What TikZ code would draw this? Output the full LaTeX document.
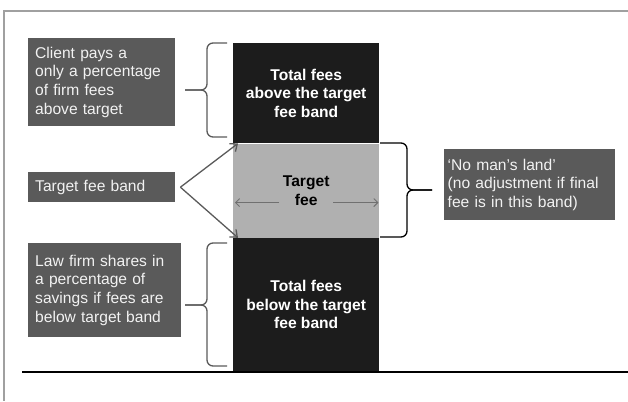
\documentclass[tikz,border=0pt]{standalone}
\usepackage{fontspec}
\setmainfont{Liberation Sans}
\usetikzlibrary{positioning,arrows.meta}
\definecolor{boxgray}{HTML}{5A5A5A}
\definecolor{barblack}{HTML}{1C1C1C}
\definecolor{bandgray}{HTML}{B0B0B0}
\definecolor{framegray}{HTML}{A0A0A0}
\definecolor{tipgray}{HTML}{707070}
\newcommand{\feefont}{\fontsize{15.6}{18.6}\selectfont}
\begin{document}
\begin{tikzpicture}[x=1pt,y=-1pt,>={Straight Barb[length=6pt,width=10pt]},
  note/.style={fill=boxgray,text=white!95!black,font=\feefont,align=left,anchor=north west,inner xsep=7pt,inner ysep=0pt,text width=#1},
  bar/.style={fill=barblack,text=white,font=\feefont\bfseries,align=center,minimum width=146pt,inner sep=0pt},
  band/.style={bar,fill=bandgray,text=black},
  brace/.style={line width=1.3pt,rounded corners=6pt}]
\useasboundingbox (0,0) rectangle (628,401);
\draw[framegray,line width=1.5pt] (628,11) -- (4,11) -- (4,401);
\node[note=133pt,minimum height=88pt] (client) at (28,38){Client pays a\\only a percentage\\of firm fees\\above target};
\node[note=133pt,minimum height=30pt] (target) at (28,172){Target fee band};
\node[note=139pt,minimum height=94pt] (lawfirm) at (28,243){Law firm shares in\\a percentage of\\savings if fees are\\below target band};
\node[note=164pt,minimum height=71pt,inner xsep=3.5pt] (noman) at (444,149){`No man's land'\\(no adjustment if final\\fee is in this band)};
\node[bar,minimum height=100pt,anchor=north west] (above) at (233,43){Total fees\\above the target\\fee band};
\node[band,minimum height=94pt,below=0pt of above] (band){Target\\fee};
\node[bar,minimum height=133pt,below=0pt of band] (below){Total fees\\below the target\\fee band};
\draw[line width=1.5pt] (22,372) -- (628,372);
\draw[brace,boxgray] (227,43) -- (207,43) -- (207,90) -- (185,90);
\draw[brace,boxgray] (227,137) -- (207,137) -- (207,90) -- (185,90);
\draw[brace,boxgray] (227,243) -- (207,243) -- (207,305) -- (185,305);
\draw[brace,boxgray] (227,366) -- (207,366) -- (207,305) -- (185,305);
\draw[brace] (380,143) -- (407,143) -- (407,190) -- (432,190);
\draw[brace] (380,237) -- (407,237) -- (407,190) -- (432,190);
\draw[->,boxgray,line width=1.3pt] ([xshift=5pt]target.east) -- ([xshift=5pt]band.north west);
\draw[->,boxgray,line width=1.3pt] ([xshift=5pt]target.east) -- ([xshift=5pt]band.south west);
\draw[->,tipgray,line width=0.9pt,>={Straight Barb[length=4pt,width=8pt]}] ([shift={(-27,12)}]band.center) -- ([shift={(2,12)}]band.west);
\draw[->,tipgray,line width=0.9pt,>={Straight Barb[length=4pt,width=8pt]}] ([shift={(27,12)}]band.center) -- ([shift={(-1,12)}]band.east);
\end{tikzpicture}
\end{document}
